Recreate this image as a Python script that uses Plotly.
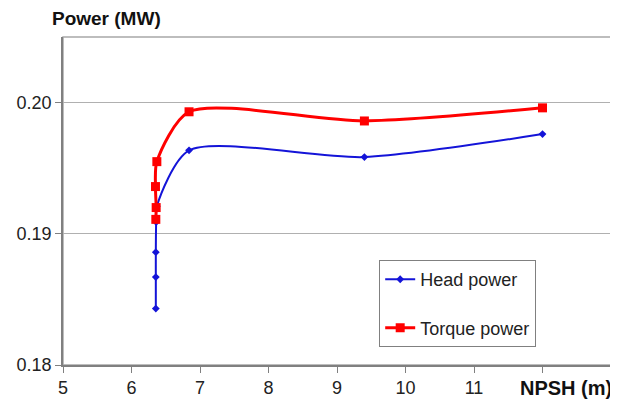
import plotly.graph_objects as go

# Data
head_npsh = [12.0, 9.40, 6.84, 6.37, 6.36, 6.355, 6.355, 6.355]
head_power = [0.1976, 0.19585, 0.19636, 0.1921, 0.1909, 0.1886, 0.1867, 0.1843]

torque_npsh = [12.0, 9.40, 6.84, 6.37, 6.35, 6.36, 6.355]
torque_power = [0.1996, 0.1986, 0.1993, 0.1955, 0.1936, 0.1920, 0.1911]

x_ticks = [5, 6, 7, 8, 9, 10, 11, 12, 13]
x_ticktext = ["5", "6", "7", "8", "9", "10", "11", "", ""]
y_ticks = [0.18, 0.19, 0.20]
y_ticktext = ["0.18", "0.19", "0.20"]

FONT = "Liberation Sans, Arial, sans-serif"

fig = go.Figure()
fig.add_trace(go.Scatter(
    x=head_npsh, y=head_power, name="Head power", legendgroup="a",
    mode="lines+markers", line=dict(color="#1414d8", width=2, shape="spline", smoothing=0.75),
    marker=dict(symbol="diamond", size=6, color="#1414d8"),
))
fig.add_trace(go.Scatter(
    x=torque_npsh, y=torque_power, name="Torque power", legendgroup="b",
    mode="lines+markers", line=dict(color="#ff0000", width=3, shape="spline", smoothing=0.75),
    marker=dict(symbol="square", size=9, color="#ff0000"),
))

# page body has an 8px margin, so the figure is sized/positioned to compensate
fig.update_layout(
    width=610, height=398,
    margin=dict(l=55, r=7, t=29, b=41, autoexpand=False),
    paper_bgcolor="white", plot_bgcolor="white",
    font=dict(family=FONT, size=18, color="#222222"),
    showlegend=True,
    legend=dict(
        x=0.577, y=0.32, xanchor="left", yanchor="top",
        bgcolor="white", bordercolor="#808080", borderwidth=1,
        font=dict(family=FONT, size=18, color="#222222"),
        tracegroupgap=22, traceorder="grouped",
    ),
    xaxis=dict(
        range=[5, 13], tickmode="array", tickvals=x_ticks, ticktext=x_ticktext,
        showgrid=False, zeroline=False, showline=True, linecolor="#808080", linewidth=1.5,
        ticks="outside", ticklen=6, tickcolor="#808080", automargin=False,
        tickfont=dict(size=18),
    ),
    yaxis=dict(
        range=[0.18, 0.205], tickmode="array", tickvals=y_ticks, ticktext=y_ticktext,
        showgrid=True, gridcolor="#b0b0b0", gridwidth=1, zeroline=False,
        showline=True, linecolor="#808080", linewidth=1.5,
        ticks="outside", ticklen=6, tickcolor="#808080", automargin=False,
        tickfont=dict(size=18),
    ),
    shapes=[dict(type="rect", xref="x domain", yref="y domain", x0=0, x1=1, y0=0, y1=1,
                 line=dict(color="#a8a8a8", width=1.5), layer="below")],
    annotations=[
        dict(text="<b>Power (MW)</b>", xref="paper", yref="paper", x=-0.023, y=1.055,
             xanchor="left", yanchor="middle", showarrow=False, font=dict(family=FONT, size=19, color="#111111")),
        dict(text="<b>NPSH (m)</b>", xref="paper", yref="paper", x=1.005, y=-0.07,
             xanchor="right", yanchor="middle", showarrow=False, font=dict(family=FONT, size=20, color="#111111")),
    ],
)

fig.write_html("out.html")
